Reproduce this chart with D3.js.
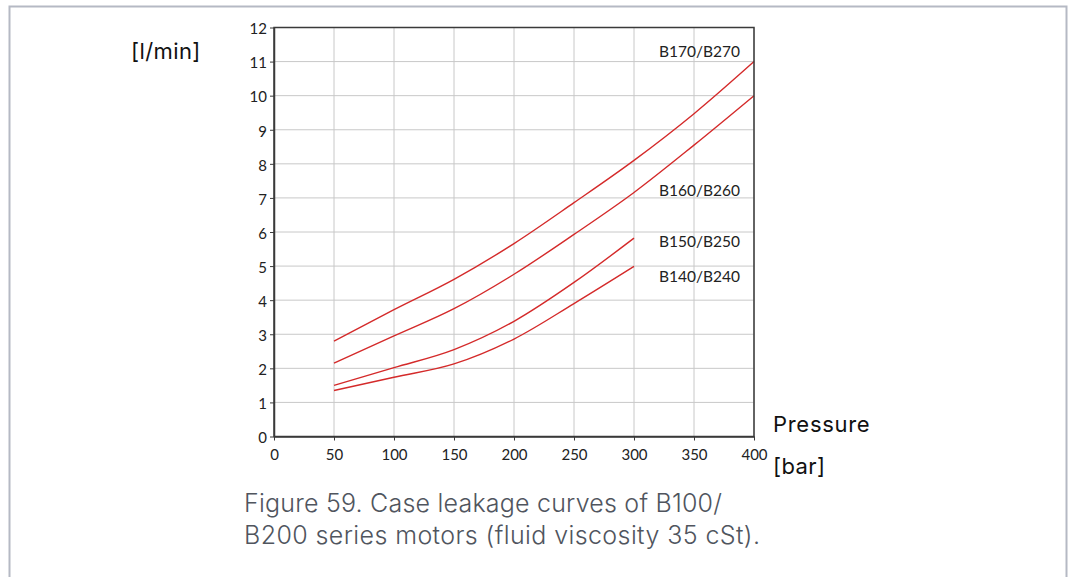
<!DOCTYPE html>
<html><head><meta charset="utf-8">
<script src="https://cdn.jsdelivr.net/npm/d3@7"></script>
<style>html,body{margin:0;padding:0;background:#fff;}svg{display:block;}</style>
</head><body>
<script>
const pressure = [50, 100, 150, 200, 250, 300, 350, 400];
const seriesNames = ["B170/B270", "B160/B260", "B150/B250", "B140/B240"];
const b170 = [2.80, 3.72, 4.61, 5.66, 6.86, 8.10, 9.47, 11.0];
const b160 = [2.15, 2.95, 3.75, 4.76, 5.93, 7.16, 8.55, 10.0];
const b150 = [1.50, 2.02, 2.55, 3.38, 4.52, 5.82];
const b140 = [1.35, 1.74, 2.13, 2.86, 3.90, 4.99];
const xTicks = [0, 50, 100, 150, 200, 250, 300, 350, 400];
const yTicks = [0,1,2,3,4,5,6,7,8,9,10,11,12];
const labelValues = [11.14, 7.07, 5.56, 4.53];
const caption = ["Figure 59. Case leakage curves of B100/", "B200 series motors (fluid viscosity 35 cSt)."];

const W = 1068, H = 577;
const svg = d3.select("body").append("svg").attr("width", W).attr("height", H);

// frame
svg.append("path").attr("d", `M9.5,${H} V6.5 H1066.5 V${H}`)
  .attr("fill","none").attr("stroke","#b5b9c4").attr("stroke-width",2);

const x = d3.scaleLinear().domain([0,400]).range([274,754]);
const y = d3.scaleLinear().domain([0,12]).range([436.5,27.5]);

const g = svg.append("g");
// grid
g.selectAll(".vg").data(xTicks.slice(1)).join("line")
  .attr("x1",d=>x(d)).attr("x2",d=>x(d)).attr("y1",y(0)).attr("y2",y(12))
  .attr("stroke","#c8c8c8").attr("stroke-width",1);
g.selectAll(".hg").data(yTicks.slice(1)).join("line")
  .attr("x1",x(0)).attr("x2",x(400)).attr("y1",d=>y(d)).attr("y2",d=>y(d))
  .attr("stroke","#c8c8c8").attr("stroke-width",1);

// lines
const data = [b170, b160, b150, b140];
const line = d3.line().x((d,i)=>x(pressure[i])).y(d=>y(d)).curve(d3.curveMonotoneX);
g.selectAll(".ln").data(data).join("path")
  .attr("d", d=>line(d)).attr("fill","none").attr("stroke","#d42a2a").attr("stroke-width",1.4);

// box
g.append("rect").attr("x",x(0)).attr("y",y(12)).attr("width",x(400)-x(0)).attr("height",y(0)-y(12))
  .attr("fill","none").attr("stroke","#3a3a3a").attr("stroke-width",1.5);

// axes
const fontAxis = "Lato, sans-serif";
const xAxis = svg.append("g").attr("transform",`translate(0,${y(0)})`)
  .call(d3.axisBottom(x).tickValues(xTicks).tickSize(4).tickSizeOuter(0).tickPadding(8.5));
const yAxis = svg.append("g").attr("transform",`translate(${x(0)},0)`)
  .call(d3.axisLeft(y).tickValues(yTicks).tickSize(4).tickSizeOuter(0).tickPadding(3));
[xAxis,yAxis].forEach(a=>{
  a.select(".domain").attr("stroke","#3a3a3a").attr("stroke-width",1.5);
  a.selectAll(".tick line").attr("stroke","#3a3a3a");
  a.selectAll("text").attr("fill","#222").style("font-family",fontAxis).style("font-size","15px");
});
yAxis.selectAll("text").attr("dy","0.42em");

// series labels
svg.selectAll(".lab").data(seriesNames).join("text")
  .attr("x",740).attr("y",(d,i)=>y(labelValues[i]))
  .attr("text-anchor","end").attr("fill","#222")
  .style("font-family",fontAxis).style("font-size","15.5px").text(d=>d);

// axis titles
const tf = "Inter, sans-serif";
svg.append("text").attr("x",131).attr("y",59).text("[l/min]")
  .attr("fill","#111").style("font-family",tf).style("font-size","22px").style("letter-spacing","0.4px");
svg.append("text").attr("x",773).attr("y",432).text("Pressure")
  .attr("fill","#111").style("font-family",tf).style("font-size","22px").style("letter-spacing","0.7px");
svg.append("text").attr("x",773).attr("y",474).text("[bar]")
  .attr("fill","#111").style("font-family",tf).style("font-size","22px").style("letter-spacing","0.4px");

// caption
const capLen = [478, 516];
svg.selectAll(".cap").data(caption).join("text")
  .attr("x",244).attr("y",(d,i)=>512+i*32).text(d=>d)
  .attr("textLength",(d,i)=>capLen[i]).attr("lengthAdjust","spacing")
  .attr("fill","#50555e").style("font-family","Inter, sans-serif").style("font-weight",300).style("font-size","25px");
</script>
</body></html>
